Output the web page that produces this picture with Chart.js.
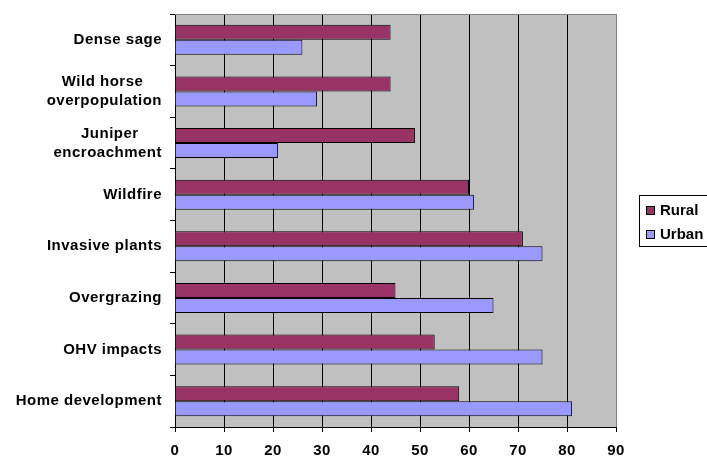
<!DOCTYPE html>
<html>
<head>
<meta charset="utf-8">
<script src="https://cdn.jsdelivr.net/npm/chart.js@4.4.1/dist/chart.umd.min.js"></script>
<style>
  body { margin: 0; background: #ffffff; }
  #wrap { width: 707px; height: 456px; }
</style>
</head>
<body>
<div id="wrap"><canvas id="chart"></canvas></div>
<script>
// chart data
var categories = [
    ['Dense sage'],
    ['Wild horse', 'overpopulation'],
    ['Juniper', 'encroachment'],
    ['Wildfire'],
    ['Invasive plants'],
    ['Overgrazing'],
    ['OHV impacts'],
    ['Home development']
];
var seriesNames = ['Rural', 'Urban'];
var ruralValues = [44, 44, 49, 60, 71, 45, 53, 58];
var urbanValues = [26, 29, 21, 61, 75, 65, 75, 81];
var xTicks = [0, 10, 20, 30, 40, 50, 60, 70, 80, 90];

var FONT = 'bold 15px "Liberation Sans", Arial, sans-serif';
var SPACING = '0.5px';

// pad short lines with spaces so multi-line labels look centred
function centreLines(lines) {
    if (lines.length < 2) return lines;
    var ctx = document.createElement('canvas').getContext('2d');
    ctx.font = FONT;
    ctx.letterSpacing = SPACING;
    var widest = 0;
    lines.forEach(function (l) { widest = Math.max(widest, ctx.measureText(l).width); });
    var sp = ctx.measureText(' ').width;
    return lines.map(function (l) {
        var n = Math.round((widest - ctx.measureText(l).width) / 2 / sp);
        return l + ' '.repeat(n);
    });
}

var plotBackground = {
    id: 'plotBackground',
    beforeInit: function (chart) {
        chart.ctx.letterSpacing = SPACING;
    },
    beforeDraw: function (chart) {
        var a = chart.chartArea;
        var ctx = chart.ctx;
        ctx.letterSpacing = SPACING;
        ctx.save();
        ctx.fillStyle = '#c0c0c0';
        ctx.fillRect(a.left, a.top, a.right - a.left, a.bottom - a.top);
        ctx.restore();
    },
    afterDraw: function (chart) {
        var a = chart.chartArea;
        var ctx = chart.ctx;
        ctx.save();
        ctx.strokeStyle = '#808080';
        ctx.lineWidth = 1;
        ctx.beginPath();
        ctx.moveTo(a.left, a.top + 0.5);
        ctx.lineTo(a.right, a.top + 0.5);
        ctx.stroke();
        ctx.restore();
    }
};

var legendBox = {
    id: 'legendBox',
    afterDraw: function (chart) {
        var ctx = chart.ctx;
        ctx.save();
        ctx.letterSpacing = '0px';
        ctx.strokeStyle = '#000';
        ctx.lineWidth = 1;
        ctx.strokeRect(639.5, 195.5, 80, 51);
        ctx.font = FONT;
        ctx.textBaseline = 'middle';
        chart.data.datasets.forEach(function (ds, i) {
            var y = 210 + i * 24;
            ctx.fillStyle = ds.backgroundColor;
            ctx.fillRect(646, y - 4, 8, 8);
            ctx.strokeRect(646.5, y - 3.5, 8, 8);
            ctx.fillStyle = '#000';
            ctx.fillText(ds.label, 660, y + 1);
        });
        ctx.restore();
    }
};

var ctx = document.getElementById('chart').getContext('2d');

var chart = new Chart(ctx, {
    type: 'bar',
    data: {
        labels: categories.map(centreLines),
        datasets: [{
            label: seriesNames[0],
            data: ruralValues,
            backgroundColor: '#993366',
            borderColor: '#000000',
            borderWidth: 1
        }, {
            label: seriesNames[1],
            data: urbanValues,
            backgroundColor: '#9999ff',
            borderColor: '#000000',
            borderWidth: 1
        }]
    },
    options: {
        indexAxis: 'y',
        responsive: true,
        maintainAspectRatio: false,
        animation: false,
        categoryPercentage: 0.58,
        barPercentage: 1,
        layout: { padding: { top: 14, right: 91, left: 0, bottom: 0 } },
        plugins: {
            legend: { display: false },
            tooltip: { enabled: false }
        },
        scales: {
            x: {
                min: xTicks[0],
                max: xTicks[xTicks.length - 1],
                afterBuildTicks: function (scale) {
                    scale.ticks = xTicks.map(function (v) { return { value: v }; });
                },
                afterFit: function (scale) {
                    scale.height = 29;
                    scale.paddingLeft = 0;
                    scale.paddingRight = 0;
                },
                border: { color: '#000000', width: 1 },
                grid: {
                    color: function (c) {
                        return c.tick && c.tick.value === 90 ? '#808080' : '#000000';
                    },
                    tickColor: '#000000',
                    tickLength: 5
                },
                ticks: {
                    color: '#000000',
                    font: { family: '"Liberation Sans", Arial, sans-serif', size: 15, weight: 'bold' },
                    padding: 10,
                    maxRotation: 0
                }
            },
            y: {
                afterFit: function (scale) {
                    scale.width = 175;
                    scale.paddingTop = 0;
                    scale.paddingBottom = 0;
                },
                border: { color: '#000000', width: 1 },
                grid: {
                    drawOnChartArea: false,
                    color: '#000000',
                    tickLength: 5
                },
                ticks: {
                    color: '#000000',
                    font: { family: '"Liberation Sans", Arial, sans-serif', size: 15, weight: 'bold', lineHeight: 1.25 },
                    padding: 8,
                    crossAlign: 'near'
                }
            }
        }
    },
    plugins: [plotBackground, legendBox]
});
</script>
</body>
</html>
